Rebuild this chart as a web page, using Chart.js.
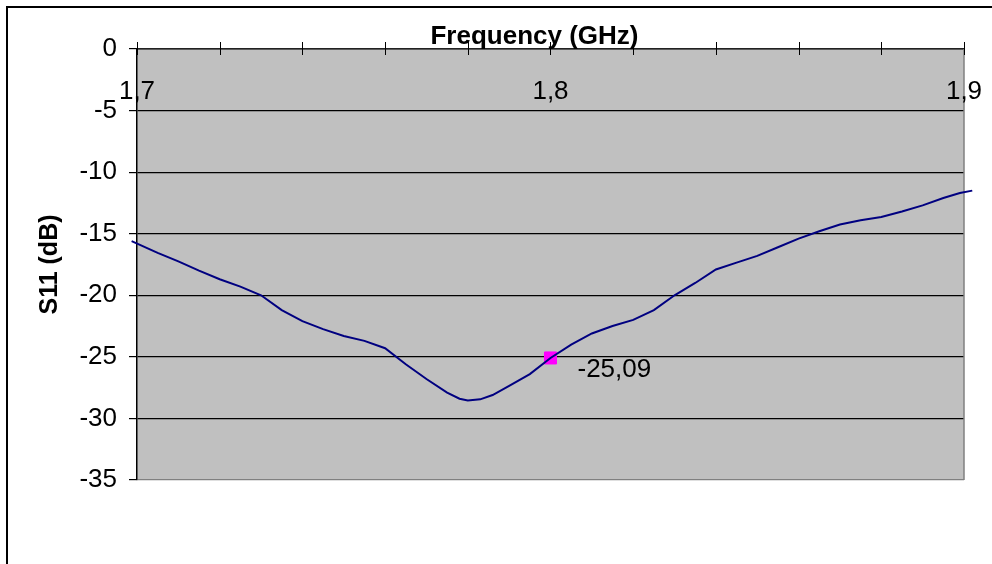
<!DOCTYPE html>
<html>
<head>
<meta charset="utf-8">
<script src="https://cdn.jsdelivr.net/npm/chart.js@4.4.0/dist/chart.umd.min.js"></script>
<style>
html,body{margin:0;padding:0;background:#fff;}
#wrap{width:992px;height:564px;position:relative;}
</style>
</head>
<body>
<div id="wrap"><canvas id="c" width="992" height="564"></canvas></div>
<script>
// ---- data ----
const frequencies = [1.6987, 1.705, 1.710, 1.715, 1.720, 1.725, 1.730, 1.735, 1.740, 1.745,
  1.750, 1.755, 1.760, 1.765, 1.770, 1.775, 1.778, 1.780, 1.783, 1.786,
  1.790, 1.795, 1.800, 1.805, 1.810, 1.815, 1.820, 1.825, 1.830, 1.835,
  1.840, 1.845, 1.850, 1.855, 1.860, 1.865, 1.870, 1.875, 1.880, 1.885,
  1.890, 1.895, 1.899, 1.902];
const s11Values = [-15.6, -16.55, -17.25, -18.0, -18.7, -19.3, -20.0, -21.2, -22.1, -22.75,
  -23.3, -23.7, -24.3, -25.6, -26.8, -27.9, -28.4, -28.55, -28.45, -28.1,
  -27.35, -26.4, -25.09, -24.0, -23.1, -22.5, -22.0, -21.2, -20.0, -19.0,
  -17.9, -17.35, -16.8, -16.1, -15.4, -14.8, -14.25, -13.9, -13.65, -13.2,
  -12.7, -12.1, -11.7, -11.5];
const markerFrequency = [1.8];
const markerValue = [-25.09];
const xLabelValues = [1.7, 1.8, 1.9];
const xTickLabels = ['1,7', '1,8', '1,9'];
const xTitle = 'Frequency (GHz)';
const yTitle = 'S11 (dB)';

const FONT = "'Liberation Sans', Arial, sans-serif";

const lineData = frequencies.map((f, i) => ({x: f, y: s11Values[i]}));
const markerData = markerFrequency.map((f, i) => ({x: f, y: markerValue[i]}));

const decorPlugin = {
  id: 'decor',
  beforeDraw(chart) {
    const ctx = chart.ctx, a = chart.chartArea;
    ctx.save();
    ctx.fillStyle = '#ffffff';
    ctx.fillRect(0, 0, chart.width, chart.height);
    // outer chart border
    ctx.strokeStyle = '#000';
    ctx.lineWidth = 2;
    ctx.strokeRect(7, 7, chart.width + 20, chart.height + 20);
    // plot area
    ctx.fillStyle = '#C0C0C0';
    ctx.fillRect(a.left, a.top, a.right - a.left, a.bottom - a.top);
    ctx.restore();
  },
  beforeDatasetsDraw(chart) {
    const ctx = chart.ctx, a = chart.chartArea, xs = chart.scales.x;
    ctx.save();
    // right border of plot area
    ctx.strokeStyle = '#808080';
    ctx.lineWidth = 1.5;
    ctx.beginPath();
    ctx.moveTo(a.right, a.top);
    ctx.lineTo(a.right, a.bottom);
    ctx.stroke();
    // x tick marks crossing the top axis
    ctx.strokeStyle = '#000';
    ctx.lineWidth = 1;
    xs.ticks.forEach(t => {
      const px = Math.round(xs.getPixelForValue(t.value)) + 0.5;
      ctx.beginPath();
      ctx.moveTo(px, a.top - 7);
      ctx.lineTo(px, a.top + 6);
      ctx.stroke();
    });
    // x tick labels drawn inside plot below the axis
    ctx.fillStyle = '#000';
    ctx.font = '26px ' + FONT;
    ctx.textAlign = 'center';
    ctx.textBaseline = 'middle';
    xLabelValues.forEach((v, i) => {
      ctx.fillText(xTickLabels[i], xs.getPixelForValue(v), a.top + 43);
    });
    // x axis title (sits slightly left of the plot centre, as in the reference)
    ctx.font = 'bold 26px ' + FONT;
    ctx.fillText(xTitle, (a.left + a.right) / 2 - 16, 37);
    ctx.restore();
  },
  afterDatasetsDraw(chart) {
    const ctx = chart.ctx;
    const meta = chart.getDatasetMeta(1);
    ctx.save();
    ctx.fillStyle = '#000';
    ctx.font = '26px ' + FONT;
    ctx.textAlign = 'left';
    ctx.textBaseline = 'middle';
    meta.data.forEach((el, i) => {
      ctx.fillText(markerValue[i].toFixed(2).replace('.', ','), el.x + 27, el.y + 12);
    });
    ctx.restore();
  }
};

new Chart(document.getElementById('c'), {
  type: 'line',
  data: {
    datasets: [
      {
        data: lineData,
        borderColor: '#000080',
        borderWidth: 2,
        pointRadius: 0,
        tension: 0,
        fill: false,
        clip: false
      },
      {
        data: markerData,
        showLine: false,
        pointStyle: 'rect',
        pointRadius: 8.5,
        pointHoverRadius: 8.5,
        pointBackgroundColor: '#FF00FF',
        pointBorderColor: '#FF00FF',
        pointBorderWidth: 1,
        clip: false
      }
    ]
  },
  options: {
    responsive: false,
    animation: false,
    devicePixelRatio: 1,
    layout: {padding: {left: 0, right: 28, top: 0, bottom: 84}},
    plugins: {legend: {display: false}, tooltip: {enabled: false}},
    scales: {
      x: {
        type: 'linear',
        position: 'top',
        min: 1.7,
        max: 1.9,
        ticks: {stepSize: 0.02, display: false},
        grid: {display: false},
        border: {display: true, color: '#222', width: 1.5},
        title: {display: false, text: xTitle},
        afterFit: s => { s.height = 49; }
      },
      y: {
        type: 'linear',
        position: 'left',
        min: -35,
        max: 0,
        ticks: {stepSize: 5, color: '#000', padding: 12,
          font: {family: FONT, size: 26},
          callback: v => String(v).replace('.', ',')},
        grid: {
          color: c => (c.tick && c.tick.value === -35) ? '#808080' : '#000',
          tickColor: '#000',
          tickLength: 8,
          lineWidth: 1.2
        },
        border: {display: true, color: '#000', width: 1.5},
        title: {display: true, text: yTitle, color: '#000',
          font: {family: FONT, size: 25, weight: 'bold'}, padding: {top: 35, bottom: 0}},
        afterFit: s => { s.width = 137; }
      }
    }
  },
  plugins: [decorPlugin]
});
</script>
</body>
</html>
